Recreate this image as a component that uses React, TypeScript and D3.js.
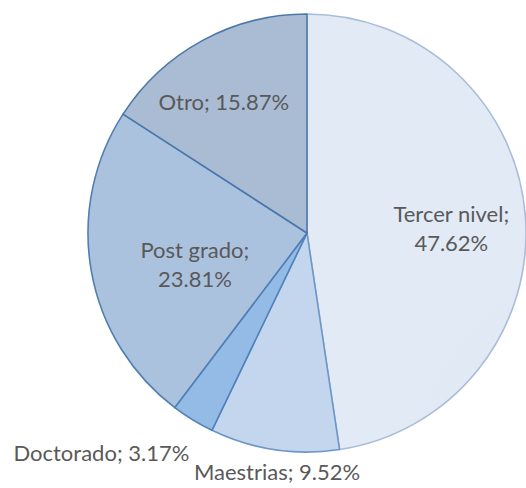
import React from "react";
import * as d3 from "d3";

const categories = ["Tercer nivel", "Maestrias", "Doctorado", "Post grado", "Otro"];
const values = [47.62, 9.52, 3.17, 23.81, 15.87];
const valueLabels = ["47.62%", "9.52%", "3.17%", "23.81%", "15.87%"];

const innerColors = ["#dce6f3", "#b6cbe7", "#86afe0", "#88a5cb", "#8198b7"];
const outerColors = ["#e2eaf5", "#c3d6ed", "#94bbe5", "#abc2df", "#aabcd4"];
const strokeColors = ["#a9bdd8", "#6b97c8", "#4f82bb", "#4f7fb3", "#4a78ab"];

const W = 526;
const H = 488;
const cx = 307;
const cy = 233;
const R = 219;

// label layout
const labelR = [0.67, 1.13, 1.1, 0.52, 0.67];
const labelDx = [-2, 7, 8, 0, -13];
const labelDy = [0, 2, 22, 5, 6];
const labelAnchor = ["middle", "middle", "end", "middle", "middle"];
const labelTwoLine = [true, false, false, true, false];

export default function App() {
  const pie = d3.pie<number>().sort(null).value((d) => d);
  const arcs = pie(values);
  const arc = d3.arc<d3.PieArcDatum<number>>().innerRadius(0).outerRadius(R);

  return (
    <svg
      width={W}
      height={H}
      style={{ position: "absolute", left: 0, top: 0, background: "#fff" }}
      fontFamily="Lato, 'Open Sans', sans-serif"
    >
      <defs>
        {arcs.map((a, i) => (
          <radialGradient
            key={i}
            id={`g${i}`}
            gradientUnits="userSpaceOnUse"
            cx={cx}
            cy={cy}
            r={R}
          >
            <stop offset="0%" stopColor={innerColors[i]} />
            <stop offset="100%" stopColor={outerColors[i]} />
          </radialGradient>
        ))}
      </defs>
      <g transform={`translate(${cx},${cy})`}>
        {arcs.map((a, i) => (
          <path
            key={i}
            d={arc(a) || ""}
            fill={`url(#g${i})`}
            stroke={strokeColors[i]}
            strokeWidth={1.6}
            strokeLinejoin="round"
          />
        ))}
        {arcs.map((a, i) => {
          const mid = (a.startAngle + a.endAngle) / 2;
          const r = R * labelR[i];
          const x = r * Math.sin(mid) + labelDx[i];
          const y = -r * Math.cos(mid) + labelDy[i];
          const fs = 22;
          if (labelTwoLine[i]) {
            return (
              <text
                key={i}
                x={x}
                y={y}
                textAnchor={labelAnchor[i]}
                fontSize={fs}
                fill="#595959"
              >
                <tspan x={x} y={y}>{categories[i]};</tspan>
                <tspan x={x} dy={29}>{valueLabels[i]}</tspan>
              </text>
            );
          }
          return (
            <text
              key={i}
              x={x}
              y={y}
              textAnchor={labelAnchor[i]}
              fontSize={fs}
              fill="#595959"
            >
              {categories[i]}; {valueLabels[i]}
            </text>
          );
        })}
      </g>
    </svg>
  );
}
